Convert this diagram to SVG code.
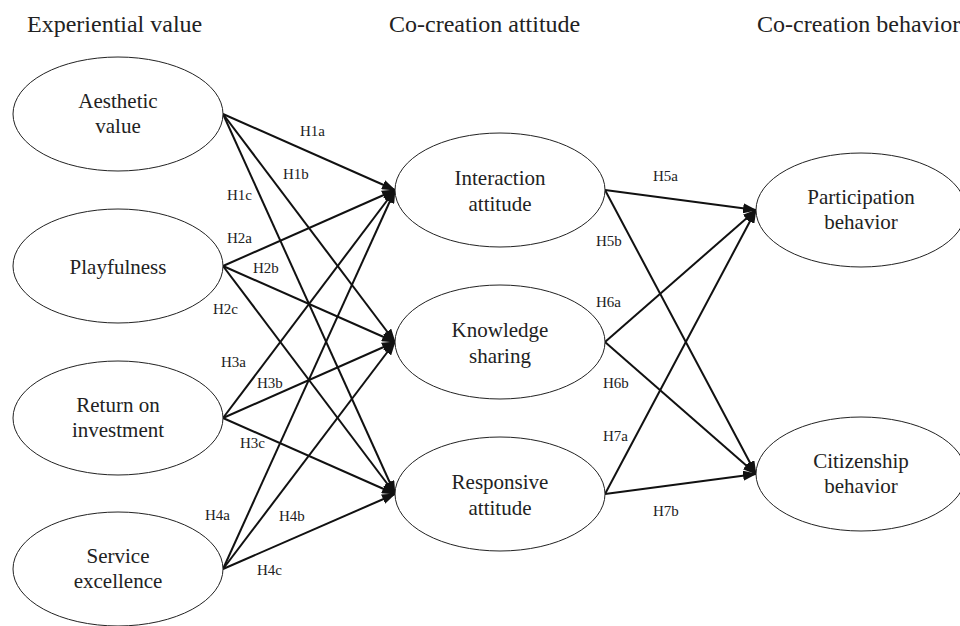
<svg xmlns="http://www.w3.org/2000/svg" width="960" height="626" viewBox="0 0 960 626" font-family="Liberation Serif, Times New Roman, DejaVu Serif, serif">
<defs>
<style>
text{font-family:'Liberation Serif','Times New Roman','DejaVu Serif',serif;fill:#222}
.h{font-size:24px}
.n{font-size:21px;text-anchor:middle}
.l{font-size:15px}
ellipse{fill:#fff;stroke:#222;stroke-width:1}
.c line{stroke:#111;stroke-width:2;marker-end:url(#ah)}
</style>
<marker id="ah" markerUnits="userSpaceOnUse" viewBox="0 0 14 10" refX="13" refY="5" markerWidth="14" markerHeight="10" orient="auto">
<path d="M0,0 L14,5 L0,10 Z" fill="#111"/>
</marker>
</defs>
<rect width="960" height="626" fill="#fff"/>
<g id="headings">
<text class="h" x="27" y="32">Experiential value</text>
<text class="h" x="389" y="32">Co-creation attitude</text>
<text class="h" x="757" y="32">Co-creation behavior</text>
</g>
<g class="c" id="connectors">
<line x1="223" y1="114" x2="395" y2="190"/>
<line x1="223" y1="114" x2="395" y2="342"/>
<line x1="223" y1="114" x2="395" y2="494"/>
<line x1="223" y1="266" x2="395" y2="190"/>
<line x1="223" y1="266" x2="395" y2="342"/>
<line x1="223" y1="266" x2="395" y2="494"/>
<line x1="223" y1="418" x2="395" y2="190"/>
<line x1="223" y1="418" x2="395" y2="342"/>
<line x1="223" y1="418" x2="395" y2="494"/>
<line x1="223" y1="569" x2="395" y2="190"/>
<line x1="223" y1="569" x2="395" y2="342"/>
<line x1="223" y1="569" x2="395" y2="494"/>
<line x1="605" y1="190" x2="756" y2="210"/>
<line x1="605" y1="190" x2="756" y2="474"/>
<line x1="605" y1="342" x2="756" y2="210"/>
<line x1="605" y1="342" x2="756" y2="474"/>
<line x1="605" y1="494" x2="756" y2="210"/>
<line x1="605" y1="494" x2="756" y2="474"/>
</g>
<g id="labels">
<text class="l" x="300" y="136">H1a</text>
<text class="l" x="283" y="179">H1b</text>
<text class="l" x="227" y="200">H1c</text>
<text class="l" x="227" y="243">H2a</text>
<text class="l" x="253" y="273">H2b</text>
<text class="l" x="213" y="314">H2c</text>
<text class="l" x="221" y="367">H3a</text>
<text class="l" x="257" y="388">H3b</text>
<text class="l" x="240" y="448">H3c</text>
<text class="l" x="205" y="520">H4a</text>
<text class="l" x="279" y="521">H4b</text>
<text class="l" x="257" y="575">H4c</text>
<text class="l" x="653" y="181">H5a</text>
<text class="l" x="596" y="246">H5b</text>
<text class="l" x="596" y="307">H6a</text>
<text class="l" x="603" y="388">H6b</text>
<text class="l" x="603" y="441">H7a</text>
<text class="l" x="653" y="516">H7b</text>
</g>
<g id="aesthetic"><ellipse cx="118" cy="114" rx="105" ry="57"/><text class="n" x="118" y="108">Aesthetic</text><text class="n" x="118" y="133">value</text></g>
<g id="playfulness"><ellipse cx="118" cy="266" rx="105" ry="57"/><text class="n" x="118" y="274">Playfulness</text></g>
<g id="roi"><ellipse cx="118" cy="418" rx="105" ry="57"/><text class="n" x="118" y="412">Return on</text><text class="n" x="118" y="437">investment</text></g>
<g id="service"><ellipse cx="118" cy="569" rx="105" ry="57"/><text class="n" x="118" y="563">Service</text><text class="n" x="118" y="588">excellence</text></g>
<g id="interaction"><ellipse cx="500" cy="190" rx="105" ry="57"/><text class="n" x="500" y="185">Interaction</text><text class="n" x="500" y="211">attitude</text></g>
<g id="knowledge"><ellipse cx="500" cy="342" rx="105" ry="57"/><text class="n" x="500" y="337">Knowledge</text><text class="n" x="500" y="363">sharing</text></g>
<g id="responsive"><ellipse cx="500" cy="494" rx="105" ry="57"/><text class="n" x="500" y="489">Responsive</text><text class="n" x="500" y="515">attitude</text></g>
<g id="participation"><ellipse cx="861" cy="210" rx="105" ry="57"/><text class="n" x="861" y="204">Participation</text><text class="n" x="861" y="229">behavior</text></g>
<g id="citizenship"><ellipse cx="861" cy="474" rx="105" ry="57"/><text class="n" x="861" y="468">Citizenship</text><text class="n" x="861" y="493">behavior</text></g>
</svg>
